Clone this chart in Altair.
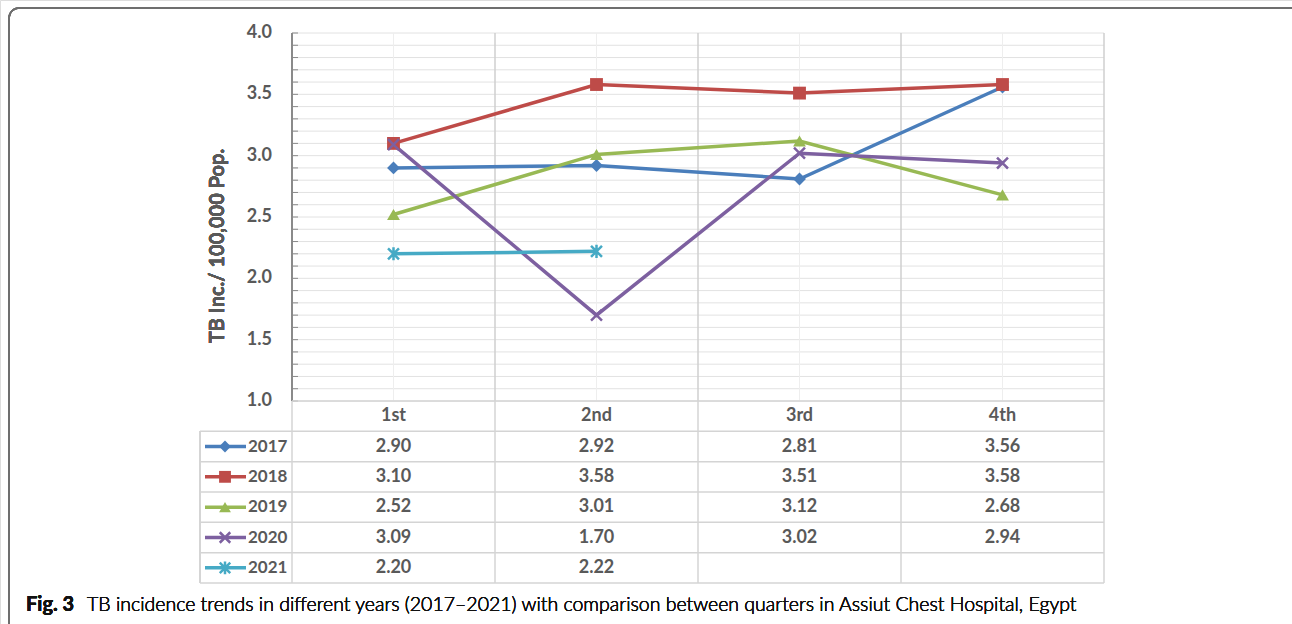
import altair as alt
import pandas as pd

# ---- data -------------------------------------------------------------
quarters = ["1st", "2nd", "3rd", "4th"]
years = ["2017", "2018", "2019", "2020", "2021"]
inc_2017 = [2.90, 2.92, 2.81, 3.56]
inc_2018 = [3.10, 3.58, 3.51, 3.58]
inc_2019 = [2.52, 3.01, 3.12, 2.68]
inc_2020 = [3.09, 1.70, 3.02, 2.94]
inc_2021 = [2.20, 2.22]
colors = ["#4A7EBB", "#BE4B48", "#98B954", "#7D60A0", "#46AAC5"]
y_ticks = [1.0, 1.5, 2.0, 2.5, 3.0, 3.5, 4.0]
minor_grid = [round(1.0 + 0.1 * i, 1) for i in range(31)]

x_mark = "M-1,-1L1,1M-1,1L1,-1"
star_mark = "M-1,-1L1,1M-1,1L1,-1M0,-1.2L0,1.2"
shapes = ["diamond", "square", "triangle-up", x_mark, star_mark]
filled_years = ["2017", "2018", "2019"]

series = dict(zip(years, [inc_2017, inc_2018, inc_2019, inc_2020, inc_2021]))
records = []
for yr, vals in series.items():
    for qi, v in enumerate(vals):
        records.append({"year": yr, "qi": qi, "value": v, "label": f"{v:.2f}",
                        "row": years.index(yr) + 1.5})
df = pd.DataFrame(records)

key_df = pd.DataFrame({"year": years, "row": [i + 1.5 for i in range(len(years))]})
head_df = pd.DataFrame({"quarter": quarters, "qi": list(range(len(quarters))), "row": [0.5] * 4})
grid_df = pd.DataFrame({"v": minor_grid})
tick_df = pd.DataFrame({"v": y_ticks, "t": [f"{t:.1f}" for t in y_ticks]})
center_df = pd.DataFrame({"qi": list(range(len(quarters)))})
bound_df = pd.DataFrame({"qb": [-0.5 + i for i in range(len(quarters) + 1)]})
row_lines = pd.DataFrame({"r": list(range(1, len(years) + 2))})

# ---- scales -----------------------------------------------------------
XS = alt.Scale(domain=[-0.5, 3.5], range=[292, 1104], zero=False, nice=False)
YV = alt.Scale(domain=[1, 4], range=[401, 33], zero=False, nice=False)
YR = alt.Scale(domain=[0, 6], range=[401, 583], zero=False, nice=False)
CS = alt.Scale(domain=years, range=colors)
SS = alt.Scale(domain=years, range=shapes)

FONT = "Lato"
FS = 18
GREY_TXT = "#595959"

# ---- plot area --------------------------------------------------------
grid = alt.Chart(grid_df).mark_rule(color="#e2e2e2", strokeWidth=1).encode(
    y=alt.Y("v:Q", scale=YV, axis=None),
    x=alt.datum(-0.5, scale=XS, axis=None), x2=alt.datum(3.5))

centers = alt.Chart(center_df).mark_rule(color="#eeeeee", strokeWidth=1).encode(
    x=alt.X("qi:Q", scale=XS, axis=None),
    y=alt.datum(1, scale=YV, axis=None), y2=alt.datum(4))

bounds = alt.Chart(bound_df).mark_rule(color="#cfcfcf", strokeWidth=1.5).encode(
    x=alt.X("qb:Q", scale=XS, axis=None),
    y=alt.datum(1, scale=YV, axis=None), y2=alt.datum(4))

axis_line = alt.Chart(tick_df).mark_rule(color="#8a8a8a", strokeWidth=1.5).encode(
    x=alt.datum(-0.5, scale=XS, axis=None),
    y=alt.datum(1, scale=YV, axis=None), y2=alt.datum(4))

minor_ticks = alt.Chart(grid_df).mark_rule(color="#8a8a8a", strokeWidth=1).encode(
    y=alt.Y("v:Q", scale=YV, axis=None),
    x=alt.value(292), x2=alt.value(298))

tick_labels = alt.Chart(tick_df).mark_text(
    align="right", baseline="middle", font=FONT, fontSize=FS, fontWeight="bold",
    color=GREY_TXT).encode(
    y=alt.Y("v:Q", scale=YV, axis=None), x=alt.value(272), text="t:N")

lines = alt.Chart(df).mark_line(strokeWidth=3.5).encode(
    x=alt.X("qi:Q", scale=XS, axis=None),
    y=alt.Y("value:Q", scale=YV, axis=None),
    color=alt.Color("year:N", scale=CS, legend=None),
    detail="year:N")

pts_filled = alt.Chart(df).transform_filter(
    alt.FieldOneOfPredicate(field="year", oneOf=filled_years)
).mark_point(filled=True, size=165, opacity=1).encode(
    x=alt.X("qi:Q", scale=XS, axis=None),
    y=alt.Y("value:Q", scale=YV, axis=None),
    color=alt.Color("year:N", scale=CS, legend=None),
    shape=alt.Shape("year:N", scale=SS, legend=None))

pts_open = alt.Chart(df).transform_filter(
    alt.FieldOneOfPredicate(field="year", oneOf=["2020", "2021"])
).mark_point(filled=False, size=120, strokeWidth=2.5, opacity=1).encode(
    x=alt.X("qi:Q", scale=XS, axis=None),
    y=alt.Y("value:Q", scale=YV, axis=None),
    color=alt.Color("year:N", scale=CS, legend=None),
    shape=alt.Shape("year:N", scale=SS, legend=None))

y_title = alt.Chart(tick_df).mark_text(
    text="TB Inc./ 100,000 Pop.", angle=270, align="center", baseline="middle",
    font=FONT, fontSize=20, fontWeight="bold", color=GREY_TXT).encode(
    x=alt.value(218), y=alt.value(246))

plot = alt.layer(grid, centers, bounds, axis_line, minor_ticks, tick_labels,
                 y_title, lines, pts_filled, pts_open)

# ---- data table -------------------------------------------------------
TBL = "#d4d4d4"
t_hlines_first = alt.Chart(pd.DataFrame({"r": [0]})).mark_rule(color=TBL, strokeWidth=1.5).encode(
    y=alt.Y("r:Q", scale=YR, axis=None),
    x=alt.datum(-0.5, scale=XS, axis=None), x2=alt.datum(3.5))

t_hlines = alt.Chart(row_lines).mark_rule(color=TBL, strokeWidth=1.5).encode(
    y=alt.Y("r:Q", scale=YR, axis=None),
    x=alt.datum(3.5, scale=XS, axis=None), x2=alt.value(200))

t_vlines = alt.Chart(bound_df).mark_rule(color=TBL, strokeWidth=1.5).encode(
    x=alt.X("qb:Q", scale=XS, axis=None),
    y=alt.datum(0, scale=YR, axis=None), y2=alt.datum(6))

t_left = alt.Chart(row_lines).mark_rule(color=TBL, strokeWidth=1.5).encode(
    x=alt.value(200),
    y=alt.datum(1, scale=YR, axis=None), y2=alt.datum(6))

t_head = alt.Chart(head_df).mark_text(
    font=FONT, fontSize=FS, fontWeight="bold", color=GREY_TXT, baseline="middle").encode(
    x=alt.X("qi:Q", scale=XS, axis=None),
    y=alt.Y("row:Q", scale=YR, axis=None), text="quarter:N")

t_vals = alt.Chart(df).mark_text(
    font=FONT, fontSize=FS, fontWeight="bold", color=GREY_TXT, baseline="middle").encode(
    x=alt.X("qi:Q", scale=XS, axis=None),
    y=alt.Y("row:Q", scale=YR, axis=None), text="label:N")

key_lines = alt.Chart(key_df).mark_rule(strokeWidth=3.5).encode(
    x=alt.value(205), x2=alt.value(246),
    y=alt.Y("row:Q", scale=YR, axis=None),
    color=alt.Color("year:N", scale=CS, legend=None))

key_filled = alt.Chart(key_df).transform_filter(
    alt.FieldOneOfPredicate(field="year", oneOf=filled_years)
).mark_point(filled=True, size=140, opacity=1).encode(
    x=alt.value(225),
    y=alt.Y("row:Q", scale=YR, axis=None),
    color=alt.Color("year:N", scale=CS, legend=None),
    shape=alt.Shape("year:N", scale=SS, legend=None))

key_open = alt.Chart(key_df).transform_filter(
    alt.FieldOneOfPredicate(field="year", oneOf=["2020", "2021"])
).mark_point(filled=False, size=110, strokeWidth=2.5, opacity=1).encode(
    x=alt.value(225),
    y=alt.Y("row:Q", scale=YR, axis=None),
    color=alt.Color("year:N", scale=CS, legend=None),
    shape=alt.Shape("year:N", scale=SS, legend=None))

key_text = alt.Chart(key_df).mark_text(
    align="left", baseline="middle", font=FONT, fontSize=17, fontWeight="bold",
    color=GREY_TXT).encode(
    x=alt.value(248), y=alt.Y("row:Q", scale=YR, axis=None), text="year:N")

table = alt.layer(t_hlines_first, t_hlines, t_vlines, t_left, t_head, t_vals,
                  key_lines, key_filled, key_open, key_text)

# ---- frame and caption -------------------------------------------------
frame = alt.Chart(key_df).mark_rect(
    fill="transparent", stroke="#6f6f6f", strokeWidth=1.5, cornerRadius=10).encode(
    x=alt.value(9), x2=alt.value(1302), y=alt.value(8), y2=alt.value(633))

cap_bold = alt.Chart(key_df).mark_text(
    text="Fig. 3", align="left", baseline="alphabetic", font=FONT, fontSize=20,
    fontWeight="bold", color="#111111").encode(x=alt.value(26), y=alt.value(611))

cap_text = alt.Chart(key_df).mark_text(
    text="TB incidence trends in different years (2017–2021) with comparison between quarters in Assiut Chest Hospital, Egypt",
    align="left", baseline="alphabetic", font=FONT, fontSize=19.5, fontWeight=300,
    color="#111111").encode(x=alt.value(87), y=alt.value(611))

chart = alt.layer(frame, plot, table, cap_bold, cap_text).resolve_scale(
    y="independent", shape="shared", color="shared"
).properties(
    width=1292, height=624,
    autosize=alt.AutoSizeParams(type="none"),
    padding=0,
).configure_view(strokeWidth=0).configure(background="white")

chart.save("out.html", embed_options={"renderer": "svg", "actions": False})
